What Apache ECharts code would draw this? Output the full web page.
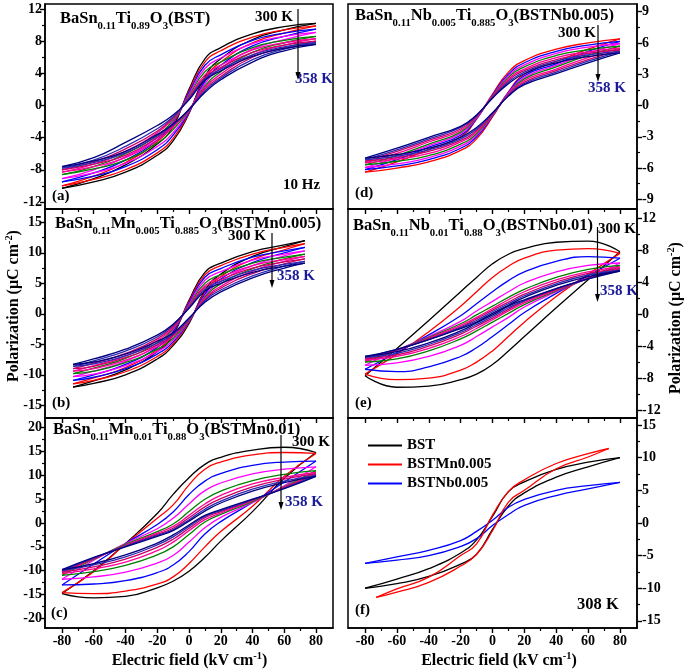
<!DOCTYPE html>
<html><head><meta charset="utf-8">
<script src="https://cdn.jsdelivr.net/npm/echarts@6/dist/echarts.min.js"></script>
<style>html,body{margin:0;padding:0;background:#fff}#c{width:685px;height:671px}</style>
</head><body><div id="c"></div>
<script>
// ---------------- data ----------------
const E_GRID = [-80,-60,-40,-20,-10,0,10,20,40,60,80];
const E_GRID_MN = [-73,-60,-40,-20,-10,0,10,20,40,60,73];
const LOOP_COLORS = ['#000000','#ff0000','#0000ff','#ff00ff','#008000','#ff0099','#cc0066','#2a2ab0','#000080'];
const LOOP_NAMES = ['300 K','308 K','313 K','318 K','323 K','328 K','338 K','348 K','358 K'];

// (a) BST : upper branch / lower branch, values at E_GRID
const A_UP = [
[-10.3,-9.1,-7.4,-4.8,-2.6,2.0,5.8,7.2,8.9,9.8,10.2],
[-10.0,-8.8,-7.1,-4.5,-2.3,1.8,5.4,6.8,8.5,9.4,9.9],
[-9.5,-8.4,-6.8,-4.3,-2.1,1.6,5.0,6.3,8.1,9.0,9.5],
[-9.1,-8.0,-6.4,-4.0,-2.0,1.4,4.6,5.9,7.7,8.6,9.1],
[-8.6,-7.6,-6.0,-3.7,-1.8,1.2,4.2,5.4,7.2,8.1,8.6],
[-8.3,-7.3,-5.7,-3.4,-1.6,1.0,3.8,5.0,6.9,7.8,8.3],
[-8.0,-7.0,-5.4,-3.2,-1.5,0.9,3.5,4.7,6.6,7.5,8.0],
[-7.8,-6.8,-5.1,-2.9,-1.4,0.8,3.3,4.5,6.3,7.3,7.8],
[-7.6,-6.5,-4.6,-2.5,-1.2,0.7,3.1,4.3,6.1,7.1,7.6]];
const A_DOWN = [
[-10.3,-9.5,-8.3,-6.2,-4.4,-1.0,3.6,5.8,8.2,9.4,10.2],
[-10.0,-9.2,-8.0,-5.9,-4.1,-0.9,3.3,5.4,7.8,9.0,9.9],
[-9.5,-8.8,-7.6,-5.5,-3.7,-0.8,3.0,5.0,7.4,8.6,9.5],
[-9.1,-8.4,-7.2,-5.1,-3.4,-0.7,2.7,4.6,7.0,8.2,9.1],
[-8.6,-7.9,-6.8,-4.7,-3.0,-0.6,2.4,4.2,6.6,7.8,8.6],
[-8.3,-7.6,-6.5,-4.3,-2.7,-0.5,2.2,3.9,6.3,7.5,8.3],
[-8.0,-7.3,-6.2,-4.0,-2.5,-0.5,2.0,3.6,6.0,7.2,8.0],
[-7.8,-7.1,-5.9,-3.8,-2.4,-0.5,1.8,3.4,5.7,7.0,7.8],
[-7.6,-6.9,-5.7,-3.6,-2.3,-0.5,1.6,3.2,5.4,6.8,7.6]];

// (b) BSTMn0.005, values at E_GRID_MN
const B_UP = [
[-12.0,-11.0,-9.2,-6.2,-3.4,2.2,6.8,8.3,10.2,11.3,12.0],
[-11.5,-10.5,-8.8,-5.9,-3.1,2.0,6.4,7.9,9.8,10.9,11.5],
[-10.9,-10.0,-8.3,-5.5,-2.9,1.8,6.0,7.4,9.3,10.3,10.9],
[-10.3,-9.4,-7.8,-5.1,-2.6,1.6,5.5,6.9,8.8,9.8,10.3],
[-9.8,-8.9,-7.3,-4.7,-2.4,1.4,5.0,6.4,8.3,9.3,9.8],
[-9.4,-8.5,-6.9,-4.4,-2.2,1.2,4.6,6.0,7.9,8.9,9.4],
[-9.0,-8.1,-6.5,-4.1,-2.0,1.1,4.3,5.6,7.5,8.5,9.0],
[-8.6,-7.7,-6.1,-3.8,-1.8,1.0,4.0,5.3,7.1,8.1,8.6],
[-8.3,-7.4,-5.8,-3.5,-1.7,0.9,3.7,5.0,6.8,7.8,8.3]];
const B_DOWN = [
[-12.0,-11.4,-10.0,-7.4,-5.2,-1.6,3.8,6.5,9.4,11.0,12.0],
[-11.5,-10.9,-9.5,-7.0,-4.9,-1.4,3.5,6.1,8.9,10.5,11.5],
[-10.9,-10.4,-9.0,-6.6,-4.6,-1.3,3.2,5.7,8.4,10.0,10.9],
[-10.3,-9.9,-8.5,-6.2,-4.3,-1.2,2.9,5.3,7.9,9.5,10.3],
[-9.8,-9.4,-8.0,-5.8,-4.0,-1.1,2.7,4.9,7.4,9.0,9.8],
[-9.4,-9.0,-7.6,-5.4,-3.7,-1.0,2.5,4.5,7.0,8.6,9.4],
[-9.0,-8.6,-7.2,-5.1,-3.5,-0.9,2.3,4.2,6.6,8.2,9.0],
[-8.6,-8.2,-6.9,-4.8,-3.3,-0.8,2.1,3.9,6.2,7.8,8.6],
[-8.3,-7.9,-6.6,-4.5,-3.1,-0.7,1.9,3.6,5.9,7.5,8.3]];

// (c) BSTMn0.01, values at E_GRID
const C_UP = [
[-14.8,-10.0,-4.3,2.0,6.0,9.5,12.3,13.8,15.3,15.9,14.8],
[-14.6,-10.2,-4.4,1.0,3.8,8.0,11.3,12.8,14.3,14.8,14.6],
[-13.0,-8.6,-4.3,-0.3,2.3,6.0,8.8,10.4,12.1,12.8,13.0],
[-11.8,-7.8,-4.3,-1.2,1.0,4.0,6.8,8.4,10.3,11.3,11.8],
[-11.0,-7.6,-4.5,-1.8,-0.2,2.4,5.0,6.7,8.9,10.2,11.0],
[-10.6,-7.5,-4.7,-2.1,-0.7,1.6,4.0,5.8,8.2,9.6,10.6],
[-10.3,-7.4,-4.8,-2.4,-1.1,1.1,3.4,5.1,7.6,9.2,10.3],
[-10.0,-7.3,-4.9,-2.6,-1.4,0.7,2.9,4.6,7.1,8.8,10.0],
[-9.8,-7.2,-5.0,-2.8,-1.6,0.4,2.5,4.2,6.7,8.5,9.8]];
const C_DOWN = [
[-14.8,-15.7,-15.4,-13.6,-12.2,-10.1,-7.2,-3.8,2.4,9.4,14.8],
[-14.6,-14.8,-14.3,-12.8,-11.3,-8.5,-5.0,-1.8,3.5,9.8,14.6],
[-13.0,-12.8,-12.1,-10.4,-8.8,-6.0,-2.3,0.3,4.3,8.6,13.0],
[-11.8,-11.3,-10.3,-8.4,-6.8,-4.0,-1.0,1.2,4.3,7.8,11.8],
[-11.0,-10.2,-8.9,-6.7,-5.0,-2.4,0.2,1.8,4.5,7.6,11.0],
[-10.6,-9.6,-8.2,-5.8,-4.0,-1.6,0.7,2.1,4.7,7.5,10.6],
[-10.3,-9.2,-7.6,-5.1,-3.4,-1.1,1.1,2.4,4.8,7.4,10.3],
[-10.0,-8.8,-7.1,-4.6,-2.9,-0.7,1.4,2.6,4.9,7.3,10.0],
[-9.8,-8.5,-6.7,-4.2,-2.5,-0.4,1.6,2.8,5.0,7.2,9.8]];

// (d) BSTNb0.005 (loops 308 K ... 358 K), values at E_GRID
const D_UP = [
[-6.4,-5.4,-4.2,-3.0,-1.3,1.1,3.2,4.3,5.4,6.0,6.4],
[-6.15,-5.2,-4.0,-2.85,-1.25,1.0,3.0,4.1,5.2,5.8,6.15],
[-5.95,-5.0,-3.85,-2.7,-1.2,0.95,2.85,3.9,5.0,5.6,5.95],
[-5.7,-4.8,-3.7,-2.55,-1.1,0.9,2.7,3.7,4.8,5.35,5.7],
[-5.5,-4.6,-3.5,-2.4,-1.05,0.85,2.55,3.5,4.6,5.15,5.5],
[-5.35,-4.4,-3.35,-2.25,-1.0,0.8,2.4,3.35,4.4,5.0,5.35],
[-5.2,-4.25,-3.2,-2.1,-0.95,0.75,2.25,3.2,4.25,4.85,5.2],
[-5.05,-4.1,-3.05,-2.0,-0.9,0.7,2.1,3.05,4.1,4.7,5.05]];
const D_DOWN = [
[-6.4,-6.0,-5.4,-4.3,-3.2,-1.1,1.3,3.0,4.2,5.4,6.4],
[-6.15,-5.8,-5.2,-4.1,-3.0,-1.0,1.25,2.85,4.0,5.2,6.15],
[-5.95,-5.6,-5.0,-3.9,-2.85,-0.95,1.2,2.7,3.85,5.0,5.95],
[-5.7,-5.35,-4.8,-3.7,-2.7,-0.9,1.1,2.55,3.7,4.8,5.7],
[-5.5,-5.15,-4.6,-3.5,-2.55,-0.85,1.05,2.4,3.5,4.6,5.5],
[-5.35,-5.0,-4.4,-3.35,-2.4,-0.8,1.0,2.25,3.35,4.4,5.35],
[-5.2,-4.85,-4.25,-3.2,-2.25,-0.75,0.95,2.1,3.2,4.25,5.2],
[-5.05,-4.7,-4.1,-3.05,-2.1,-0.7,0.9,2.0,3.05,4.1,5.05]];

// (e) BSTNb0.01, values at E_GRID
const E_UP = [
[-7.7,-4.3,-0.8,2.8,4.6,6.3,7.5,8.2,9.0,9.15,7.8],
[-7.5,-5.0,-2.2,1.0,2.8,4.6,6.0,7.0,8.0,8.2,7.6],
[-6.9,-4.8,-2.6,-0.2,1.3,2.8,4.2,5.3,6.6,7.2,7.0],
[-6.4,-4.5,-2.8,-0.9,0.4,1.6,2.8,3.9,5.3,6.1,6.4],
[-6.0,-4.5,-2.9,-1.2,-0.1,1.0,2.1,3.1,4.6,5.6,6.1],
[-5.8,-4.5,-3.0,-1.4,-0.4,0.7,1.8,2.8,4.3,5.3,5.9],
[-5.6,-4.5,-3.1,-1.6,-0.6,0.5,1.5,2.5,4.0,5.1,5.7],
[-5.4,-4.4,-3.2,-1.7,-0.8,0.3,1.3,2.3,3.8,4.9,5.5],
[-5.3,-4.4,-3.2,-1.8,-1.0,0.1,1.1,2.1,3.6,4.7,5.4]];
const E_DOWN = [
[-7.7,-9.15,-9.0,-8.2,-7.5,-6.3,-4.6,-2.8,0.8,4.3,7.8],
[-7.5,-8.2,-8.0,-7.0,-6.0,-4.6,-2.8,-1.0,2.2,5.0,7.6],
[-6.9,-7.2,-6.6,-5.3,-4.2,-2.8,-1.3,0.2,2.6,4.8,7.0],
[-6.4,-6.1,-5.3,-3.9,-2.8,-1.6,-0.4,0.9,2.8,4.5,6.4],
[-6.0,-5.6,-4.6,-3.1,-2.1,-1.0,0.1,1.2,2.9,4.5,6.1],
[-5.8,-5.3,-4.3,-2.8,-1.8,-0.7,0.4,1.4,3.0,4.5,5.9],
[-5.6,-5.1,-4.0,-2.5,-1.5,-0.5,0.6,1.6,3.1,4.5,5.7],
[-5.4,-4.9,-3.8,-2.3,-1.3,-0.3,0.8,1.7,3.2,4.4,5.5],
[-5.3,-4.7,-3.6,-2.1,-1.1,-0.1,1.0,1.8,3.2,4.4,5.4]];

// (f) 308 K comparison
const F_NAMES = ['BST','BSTMn0.005','BSTNb0.005'];
const F_COLORS = ['#000000','#ff0000','#0000ff'];
const F_BST_UP   = [-10.0,-8.6,-7.0,-4.6,-2.6,1.0,4.8,6.3,8.2,9.3,10.0];
const F_BST_DOWN = [-10.0,-9.3,-8.2,-6.3,-4.8,-1.0,2.6,4.6,7.0,8.6,10.0];
const F_MN_UP    = [-11.4,-10.1,-8.3,-5.0,-3.2,1.2,4.8,6.6,9.1,10.6,11.4];
const F_MN_DOWN  = [-11.4,-10.6,-9.1,-6.6,-4.8,-1.2,3.2,5.0,8.3,10.1,11.4];
const F_NB_UP    = [-6.2,-5.2,-4.2,-2.7,-1.3,0.4,2.4,3.6,5.0,5.7,6.2];
const F_NB_DOWN  = [-6.2,-5.7,-5.0,-3.6,-2.4,-0.4,1.3,2.7,4.2,5.2,6.2];

// tick values
const X_TICKS = [-80,-60,-40,-20,0,20,40,60,80];
const X_MINOR = [-70,-50,-30,-10,10,30,50,70];
const Y_TICKS_A = [-12,-8,-4,0,4,8,12],  Y_MINOR_A = [-10,-6,-2,2,6,10];
const Y_TICKS_B = [-15,-10,-5,0,5,10,15], Y_MINOR_B = [-12.5,-7.5,-2.5,2.5,7.5,12.5];
const Y_TICKS_C = [-20,-15,-10,-5,0,5,10,15,20], Y_MINOR_C = [-17.5,-12.5,-7.5,-2.5,2.5,7.5,12.5,17.5];
const Y_TICKS_D = [-9,-6,-3,0,3,6,9], Y_MINOR_D = [-7.5,-4.5,-1.5,1.5,4.5,7.5];
const Y_TICKS_E = [-12,-8,-4,0,4,8,12], Y_MINOR_E = [-10,-6,-2,2,6,10];
const Y_TICKS_F = [-15,-10,-5,0,5,10,15], Y_MINOR_F = [-12.5,-7.5,-2.5,2.5,7.5,12.5];

// ---------------- chart ----------------
const FAM = '"Liberation Serif","Times New Roman",serif';
const chart = echarts.init(document.getElementById('c'), null, {renderer:'canvas'});

const panels = [
 {grid:{left:45, top:4, width:288, height:205}, xl:false, ypos:'left', ymin:-12.88, ymax:12.62, yt:Y_TICKS_A, ym:Y_MINOR_A},
 {grid:{left:45, top:209, width:288, height:209}, xl:false, ypos:'left', ymin:-17.08, ymax:17.18, yt:Y_TICKS_B, ym:Y_MINOR_B},
 {grid:{left:45, top:418, width:288, height:210}, xl:true, ypos:'left', ymin:-22.03, ymax:22.04, yt:Y_TICKS_C, ym:Y_MINOR_C},
 {grid:{left:348, top:4, width:289, height:205}, xl:false, ypos:'right', ymin:-9.93, ymax:9.74, yt:Y_TICKS_D, ym:Y_MINOR_D},
 {grid:{left:348, top:209, width:289, height:209}, xl:false, ypos:'right', ymin:-13.0, ymax:13.16, yt:Y_TICKS_E, ym:Y_MINOR_E},
 {grid:{left:348, top:418, width:289, height:210}, xl:true, ypos:'right', ymin:-16.09, ymax:16.07, yt:Y_TICKS_F, ym:Y_MINOR_F}
];

const grids = [], xAxes = [], yAxes = [];
const lbl = {color:'#000', fontFamily:FAM, fontWeight:'bold', fontSize:14};
panels.forEach((p, gi) => {
  grids.push(Object.assign({show:true, borderColor:'#000', borderWidth:1.5, backgroundColor:'transparent'}, p.grid));
  xAxes.push({gridIndex:gi, type:'value', min:-90.7, max:90.7, position:'bottom',
    axisLine:{show:true, onZero:false, lineStyle:{color:'#000', width:1.5}},
    axisTick:{show:true, customValues:X_TICKS, length:5, lineStyle:{color:'#000', width:1.4}},
    axisLabel:Object.assign({show:p.xl, customValues:X_TICKS, margin:6}, lbl),
    splitLine:{show:false}});
  xAxes.push({gridIndex:gi, type:'value', min:-90.7, max:90.7, position:'bottom', offset:0,
    axisLine:{show:false, onZero:false}, axisTick:{show:true, customValues:X_MINOR, length:3, lineStyle:{color:'#000', width:1.2}},
    axisLabel:{show:false}, splitLine:{show:false}});
  yAxes.push({gridIndex:gi, type:'value', min:p.ymin, max:p.ymax, position:p.ypos,
    axisLine:{show:true, onZero:false, lineStyle:{color:'#000', width:1.5}},
    axisTick:{show:true, customValues:p.yt, length:5, lineStyle:{color:'#000', width:1.4}},
    axisLabel:Object.assign({show:true, customValues:p.yt, margin:p.ypos==='left'?3:5}, lbl),
    splitLine:{show:false}});
  yAxes.push({gridIndex:gi, type:'value', min:p.ymin, max:p.ymax, position:p.ypos, offset:0,
    axisLine:{show:false, onZero:false}, axisTick:{show:true, customValues:p.ym, length:3, lineStyle:{color:'#000', width:1.2}},
    axisLabel:{show:false}, splitLine:{show:false}});
});

const series = [];
function branch(gi, E, vals, color, name, reverse) {
  let d = E.map((e, i) => [e, vals[i]]);
  if (reverse) d = d.reverse();
  series.push({type:'line', name:name, xAxisIndex:2*gi, yAxisIndex:2*gi, data:d,
    symbol:'none', showSymbol:false, smooth:0.5, silent:true,
    lineStyle:{color:color, width:1.3}, itemStyle:{color:color}});
}
function loops(gi, E, ups, downs, colors, names) {
  ups.forEach((u, k) => {
    branch(gi, E, u, colors[k], names[k], true);
    branch(gi, E, downs[k], colors[k], names[k], false);
  });
}
loops(0, E_GRID, A_UP, A_DOWN, LOOP_COLORS, LOOP_NAMES);
loops(1, E_GRID_MN, B_UP, B_DOWN, LOOP_COLORS, LOOP_NAMES);
loops(2, E_GRID, C_UP, C_DOWN, LOOP_COLORS, LOOP_NAMES);
loops(3, E_GRID, D_UP, D_DOWN, LOOP_COLORS.slice(1), LOOP_NAMES.slice(1));
loops(4, E_GRID, E_UP, E_DOWN, LOOP_COLORS, LOOP_NAMES);
loops(5, E_GRID, [F_BST_UP, F_NB_UP], [F_BST_DOWN, F_NB_DOWN], [F_COLORS[0], F_COLORS[2]], [F_NAMES[0], F_NAMES[2]]);
loops(5, E_GRID_MN, [F_MN_UP], [F_MN_DOWN], [F_COLORS[1]], [F_NAMES[1]]);

// ---------- text helpers (sub/superscripts) ----------
const mctx = document.createElement('canvas').getContext('2d');
function rich(x, baseline, parts, size, color, align, rotation) {
  const kids = []; let cx = 0;
  parts.forEach(([t, k]) => {
    const fs = k === 'n' ? size : size * 0.65;
    const dy = k === 'sub' ? size * 0.33 : (k === 'sup' ? -size * 0.4 : 0);
    const font = 'bold ' + fs + 'px ' + FAM;
    mctx.font = font;
    const w = mctx.measureText(t).width;
    kids.push({type:'text', x:cx, y:dy - 0.34 * fs,
      style:{text:t, font:font, fill:color || '#000', align:'left', verticalAlign:'middle'}});
    cx += w;
  });
  if (align === 'center') kids.forEach(k => k.x -= cx / 2);
  return {type:'group', x:x, y:baseline, rotation:rotation || 0, z:100, children:kids};
}
function plain(x, baseline, t, size, color) { return rich(x, baseline, [[t, 'n']], size, color); }
function arrow(x, y1, y2) {
  return [{type:'line', z:100, shape:{x1:x, y1:y1, x2:x, y2:y2 - 6}, style:{stroke:'#000', lineWidth:1.2}},
          {type:'polygon', z:100, shape:{points:[[x - 2.5, y2 - 8], [x + 2.5, y2 - 8], [x, y2]]}, style:{fill:'#000'}}];
}
const NAVY = '#1a1a99';
const graphics = [
  rich(60, 24, [['BaSn','n'],['0.11','sub'],['Ti','n'],['0.89','sub'],['O','n'],['3','sub'],['(BST)','n']], 16.5),
  rich(55, 229, [['BaSn','n'],['0.11','sub'],['Mn','n'],['0.005','sub'],['Ti','n'],['0.885','sub'],['O','n'],['3','sub'],['(BSTMn0.005)','n']], 16.5),
  rich(53, 435, [['BaSn','n'],['0.11','sub'],['Mn','n'],['0.01','sub'],['Ti','n'],['0.88','sub'],['O','n'],['3','sub'],['(BSTMn0.01)','n']], 16.5),
  rich(355, 21, [['BaSn','n'],['0.11','sub'],['Nb','n'],['0.005','sub'],['Ti','n'],['0.885','sub'],['O','n'],['3','sub'],['(BSTNb0.005)','n']], 16.5),
  rich(353, 231, [['BaSn','n'],['0.11','sub'],['Nb','n'],['0.01','sub'],['Ti','n'],['0.88','sub'],['O','n'],['3','sub'],['(BSTNb0.01)','n']], 16.5),
  plain(255, 22.5, '300 K', 15), plain(295, 84, '358 K', 15, NAVY),
  plain(228, 241, '300 K', 15), plain(277, 281.5, '358 K', 15, NAVY),
  plain(292, 447.5, '300 K', 15), plain(285, 507.5, '358 K', 15, NAVY),
  plain(558, 38, '300 K', 15), plain(588, 93, '358 K', 15, NAVY),
  plain(598, 234, '300 K', 15), plain(600, 296.5, '358 K', 15, NAVY),
  ...arrow(298, 9, 80), ...arrow(272, 233, 288), ...arrow(281, 435, 510),
  ...arrow(598, 25, 82), ...arrow(597.5, 227, 302),
  plain(283, 190.5, '10 Hz', 15),
  plain(577, 610, '308 K', 16.5),
  plain(52, 201, '(a)', 15), plain(52, 408, '(b)', 15), plain(51, 618, '(c)', 15),
  plain(355, 198, '(d)', 15), plain(355, 408, '(e)', 15), plain(355, 615, '(f)', 15),
  rich(189.5, 666, [['Electric field (kV cm','n'],['-1','sup'],[')','n']], 16, '#000', 'center'),
  rich(499, 666, [['Electric field (kV cm','n'],['-1','sup'],[')','n']], 16, '#000', 'center'),
  rich(19, 306, [['Polarization (\u03bcC cm','n'],['-2','sup'],[')','n']], 16, '#000', 'center', Math.PI / 2),
  rich(681, 318, [['Polarization (\u03bcC cm','n'],['-2','sup'],[')','n']], 16, '#000', 'center', Math.PI / 2)
];

chart.setOption({
  animation:false,
  backgroundColor:'#fff',
  grid:grids, xAxis:xAxes, yAxis:yAxes, series:series,
  legend:{data:F_NAMES, orient:'vertical', left:363, top:433, icon:'rect', itemWidth:34, itemHeight:2, itemGap:4,
    textStyle:{color:'#000', fontFamily:FAM, fontWeight:'bold', fontSize:15, lineHeight:15}},
  graphic:graphics
});
</script></body></html>
